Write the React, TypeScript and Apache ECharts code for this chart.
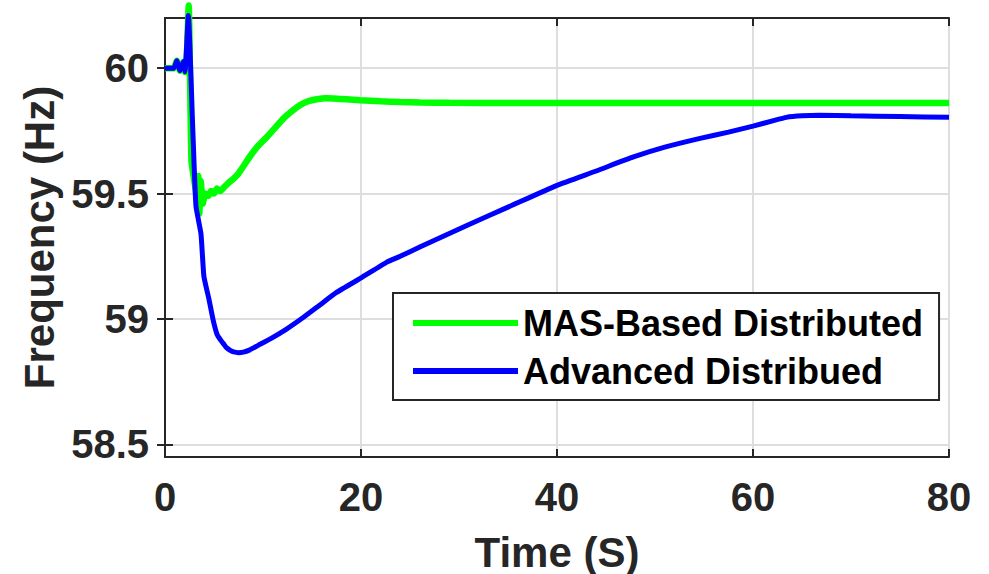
import React, { useEffect, useRef } from "react";
import * as echarts from "echarts";

const seriesNames = ["MAS-Based Distributed", "Advanced Distribued"];

const timeMAS = [0, 0.9, 1.2, 1.53, 1.87, 2.04, 2.2, 2.42, 2.7, 3.0, 3.2, 3.4, 3.5, 3.65, 3.85, 4.1, 4.4, 4.7, 5.0, 5.3, 5.6, 5.9, 6.4, 7.0, 7.5, 8.1, 8.7, 9.5, 10.4, 11.3, 12.1, 13.0, 13.8, 14.6, 15.5, 16.4, 17.2, 18.5, 19.9, 22, 24, 26, 29, 35, 50, 65, 80];
const freqMAS = [60, 60, 60.03, 59.99, 60.025, 59.985, 60.02, 60.25, 59.63, 59.55, 59.5, 59.57, 59.42, 59.55, 59.46, 59.5, 59.49, 59.51, 59.5, 59.52, 59.51, 59.52, 59.54, 59.56, 59.58, 59.615, 59.65, 59.69, 59.726, 59.765, 59.8, 59.83, 59.853, 59.868, 59.876, 59.88, 59.879, 59.876, 59.872, 59.868, 59.865, 59.863, 59.862, 59.861, 59.861, 59.861, 59.861];

const timeADV = [0, 0.9, 1.2, 1.53, 1.87, 2.04, 2.38, 2.85, 3.16, 3.67, 3.97, 4.48, 4.89, 5.3, 5.7, 6.0, 6.3, 6.7, 7.0, 7.5, 8.0, 8.6, 9.5, 10.7, 12.4, 14.1, 15.8, 17.5, 20.1, 22.6, 24, 26, 30.8, 35, 40, 44, 47.8, 51, 54.6, 57.5, 60, 62, 63.4, 65, 66.8, 70, 75, 80];
const freqADV = [60, 60, 60.03, 59.99, 60.026, 59.986, 60.21, 59.74, 59.45, 59.34, 59.17, 59.08, 59.0, 58.94, 58.915, 58.9, 58.885, 58.874, 58.869, 58.866, 58.868, 58.876, 58.895, 58.92, 58.96, 59.006, 59.056, 59.106, 59.166, 59.226, 59.25, 59.287, 59.373, 59.446, 59.533, 59.59, 59.646, 59.685, 59.72, 59.745, 59.769, 59.79, 59.804, 59.81, 59.812, 59.81, 59.807, 59.804];

const xTicks = [0, 20, 40, 60, 80];
const yTicks = [58.5, 59, 59.5, 60];

const FONT = "'Liberation Sans', Arial, Helvetica, sans-serif";
const AX = "#262626";

export default function App() {
  const ref = useRef<HTMLDivElement>(null);
  useEffect(() => {
    if (!ref.current) return;
    const chart = echarts.init(ref.current, undefined, { renderer: "svg" });
    const tick = { show: true, inside: true, length: 8, lineStyle: { color: AX, width: 2 } };
    const axisLine = { show: true, lineStyle: { color: AX, width: 2 } };
    const split = { show: true, lineStyle: { color: "#dedede", width: 2 } };
    const label = { fontSize: 40, fontWeight: "bold", color: AX, fontFamily: FONT };
    chart.setOption({
      animation: false,
      backgroundColor: "#fff",
      grid: { left: 165, right: 40, top: 18, bottom: 117, containLabel: false, outerBoundsMode: "none" },
      legend: {
        data: seriesNames.map((n) => ({ name: n })),
        orient: "vertical",
        left: 393,
        top: 293,
        icon: "rect",
        itemWidth: 105,
        itemHeight: 6,
        itemGap: 8,
        padding: [10, 16, 9, 20],
        borderColor: AX,
        borderWidth: 2,
        backgroundColor: "#fff",
        selectedMode: false,
        textStyle: { fontSize: 36, fontWeight: "bold", color: "#000", fontFamily: FONT, lineHeight: 40 },
      },
      xAxis: [
        {
          type: "value", min: xTicks[0], max: xTicks[xTicks.length - 1], interval: 20, position: "bottom",
          axisLine, axisTick: tick, splitLine: split,
          axisLabel: { ...label, margin: 20 },
          name: "Time (S)", nameLocation: "middle", nameGap: 74,
          nameTextStyle: { fontSize: 42, fontWeight: "bold", color: AX, fontFamily: FONT },
        },
        {
          type: "value", min: xTicks[0], max: xTicks[xTicks.length - 1], interval: 20, position: "top",
          axisLine, axisTick: tick, splitLine: { show: false }, axisLabel: { show: false },
        },
      ],
      yAxis: [
        {
          type: "value", min: 58.45, max: 60.2, position: "left",
          axisLine, axisTick: { ...tick, customValues: yTicks }, splitLine: split,
          axisLabel: { ...label, margin: 16, customValues: yTicks },
          name: "Frequency (Hz)", nameLocation: "middle", nameGap: 100,
          nameTextStyle: { fontSize: 42, fontWeight: "bold", color: AX, fontFamily: FONT },
        },
        {
          type: "value", min: 58.45, max: 60.2, position: "right",
          axisLine, axisTick: { ...tick, customValues: yTicks }, splitLine: { show: false }, axisLabel: { show: false },
        },
      ],
      series: [
        {
          name: seriesNames[0], type: "line", xAxisIndex: 0, yAxisIndex: 0, showSymbol: false, clip: false,
          smooth: 0.15,
          color: "#00ff00", itemStyle: { color: "#00ff00" },
          lineStyle: { color: "#00ff00", width: 6.5 },
          data: timeMAS.map((t, i) => [t, freqMAS[i]]),
        },
        {
          name: seriesNames[1], type: "line", xAxisIndex: 0, yAxisIndex: 0, showSymbol: false, clip: false,
          smooth: 0.15,
          color: "#0000ff", itemStyle: { color: "#0000ff" },
          lineStyle: { color: "#0000ff", width: 5 },
          data: timeADV.map((t, i) => [t, freqADV[i]]),
        },
      ],
    });
    return () => chart.dispose();
  }, []);
  return <div ref={ref} style={{ position: "fixed", left: 0, top: 0, width: 989, height: 574 }} />;
}
